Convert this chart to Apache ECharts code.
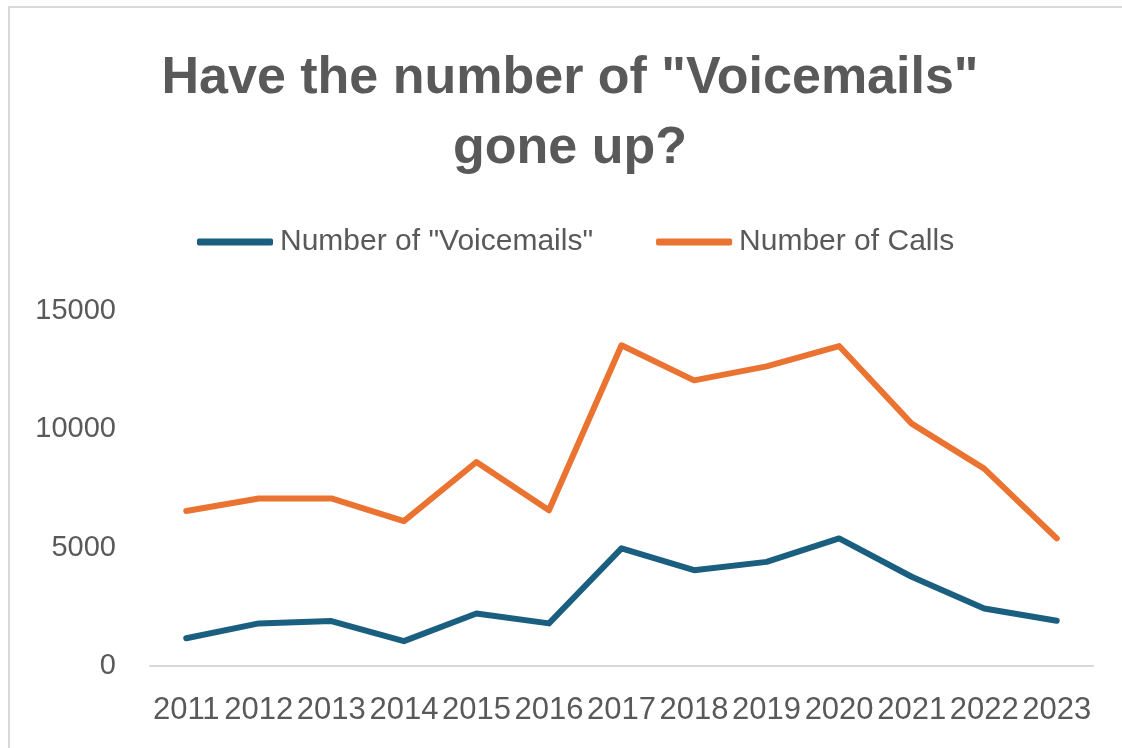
<!DOCTYPE html>
<html>
<head>
<meta charset="utf-8">
<script src="https://cdn.jsdelivr.net/npm/echarts@6/dist/echarts.min.js"></script>
<style>
  html, body { margin: 0; padding: 0; background: #ffffff; }
  #frame { position: absolute; left: 8px; top: 6px; width: 1130px; height: 760px;
           border: 2px solid #d9d9d9; box-sizing: border-box; }
  #chart { position: absolute; left: 0; top: 0; width: 1122px; height: 748px; }
</style>
</head>
<body>
<div id="frame"></div>
<div id="chart"></div>
<script>
// Yearly call volumes and voicemails left
const years = ['2011', '2012', '2013', '2014', '2015', '2016', '2017', '2018', '2019', '2020', '2021', '2022', '2023'];
const voicemails = [1170, 1800, 1900, 1050, 2220, 1800, 4970, 4050, 4400, 5390, 3770, 2430, 1910];
const calls = [6550, 7080, 7080, 6120, 8620, 6580, 13550, 12070, 12660, 13520, 10240, 8340, 5390];
const yTicks = { min: 0, max: 15000, interval: 5000 };

const textGray = '#595959';
const sansFont = '"Liberation Sans", Arial, sans-serif';

const chart = echarts.init(document.getElementById('chart'));
chart.setOption({
  backgroundColor: 'transparent',
  animation: false,
  title: {
    text: 'Have the number of "Voicemails"\ngone up?',
    left: 570,
    top: 44,
    padding: 0,
    textAlign: 'center',
    textStyle: {
      fontFamily: sansFont,
      fontWeight: 'bold',
      fontSize: 52,
      lineHeight: 70,
      color: textGray
    }
  },
  legend: {
    top: 222,
    left: 192,
    icon: 'roundRect',
    itemWidth: 76,
    itemHeight: 7,
    itemGap: 63,
    textStyle: { fontFamily: sansFont, fontSize: 30, color: textGray, padding: [0, 0, 0, 2] },
    data: ['Number of "Voicemails"', 'Number of Calls']
  },
  grid: { left: 150, right: 29, top: 311, bottom: 82 },
  xAxis: {
    type: 'category',
    data: years,
    boundaryGap: true,
    axisLine: { show: true, lineStyle: { color: '#d9d9d9', width: 2 } },
    axisTick: { show: false },
    axisLabel: {
      interval: 0,
      margin: 29,
      fontFamily: sansFont,
      fontSize: 31,
      color: textGray
    }
  },
  yAxis: {
    type: 'value',
    min: yTicks.min,
    max: yTicks.max,
    interval: yTicks.interval,
    axisLine: { show: false },
    axisTick: { show: false },
    splitLine: { show: false },
    axisLabel: {
      margin: 34,
      fontFamily: sansFont,
      fontSize: 29,
      color: textGray,
      formatter: (v) => String(v)
    }
  },
  series: [
    {
      name: 'Number of "Voicemails"',
      type: 'line',
      data: voicemails,
      symbol: 'none',
      color: '#1a5e80',
      lineStyle: { width: 6, color: '#1a5e80', cap: 'round', join: 'round' }
    },
    {
      name: 'Number of Calls',
      type: 'line',
      data: calls,
      symbol: 'none',
      color: '#eb7331',
      lineStyle: { width: 6, color: '#eb7331', cap: 'round', join: 'round' }
    }
  ]
});
</script>
</body>
</html>
